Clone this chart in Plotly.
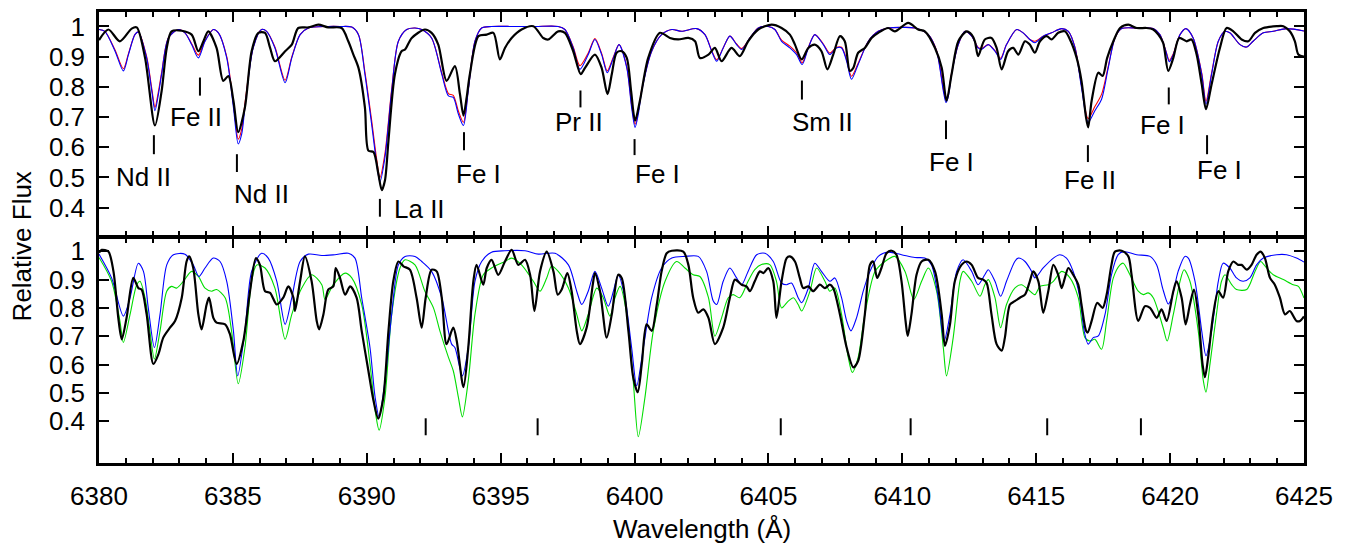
import plotly.graph_objects as go

# ---------------- data ----------------
# Top panel: observed spectrum (black)
top_obs_wl = [6380.00, 6380.35, 6380.78, 6381.22, 6381.41, 6381.72, 6382.09, 6382.34, 6382.53, 6382.71,
              6383.09, 6383.46, 6383.71, 6383.90, 6384.08, 6384.39, 6384.64, 6384.83, 6385.02, 6385.20,
              6385.45, 6385.70, 6385.95, 6386.20, 6386.39, 6386.57, 6386.95, 6387.20, 6387.44, 6387.82,
              6388.19, 6388.56, 6389.06, 6389.31, 6389.50, 6389.69, 6389.93, 6390.06, 6390.25, 6390.43,
              6390.56, 6390.68, 6390.81, 6391.05, 6391.30, 6391.43, 6391.68, 6392.17, 6392.42, 6392.67,
              6392.98, 6393.29, 6393.48, 6393.61, 6393.73, 6393.85, 6394.17, 6394.48, 6394.73, 6394.97,
              6395.16, 6395.41, 6395.78, 6396.22, 6396.59, 6396.78, 6397.15, 6397.40, 6397.71, 6397.99,
              6398.15, 6398.52, 6398.77, 6398.99, 6399.15, 6399.33, 6399.52, 6399.71, 6399.87, 6400.02,
              6400.20, 6400.51, 6400.95, 6401.32, 6401.63, 6402.01, 6402.26, 6402.44, 6402.76, 6403.00,
              6403.25, 6403.62, 6403.93, 6404.24, 6404.62, 6405.12, 6405.49, 6405.80, 6405.99, 6406.24,
              6406.49, 6406.73, 6406.98, 6407.20, 6407.42, 6407.67, 6407.85, 6408.04, 6408.17, 6408.35,
              6408.60, 6408.85, 6409.10, 6409.47, 6409.72, 6410.22, 6410.59, 6410.84, 6411.22, 6411.47,
              6411.65, 6411.84, 6412.09, 6412.40, 6412.59, 6412.71, 6412.83, 6413.08, 6413.33, 6413.52,
              6413.71, 6413.95, 6414.14, 6414.33, 6414.58, 6414.76, 6414.95, 6415.14, 6415.39, 6415.57,
              6415.82, 6416.07, 6416.26, 6416.51, 6416.69, 6416.86, 6416.94, 6417.07, 6417.32, 6417.48,
              6417.65, 6417.88, 6418.13, 6418.44, 6418.75, 6419.12, 6419.37, 6419.56, 6419.74, 6419.93,
              6420.12, 6420.34, 6420.62, 6420.80, 6420.99, 6421.18, 6421.34, 6421.55, 6421.86, 6422.11,
              6422.36, 6422.67, 6422.92, 6423.17, 6423.48, 6423.98, 6424.23, 6424.47, 6424.66, 6424.79,
              6425.00]
top_obs_flux = [0.955, 0.990, 0.951, 0.993, 0.997, 0.896, 0.672, 0.787, 0.929, 0.984,
                0.986, 0.973, 0.918, 0.951, 0.984, 0.929, 0.820, 0.836, 0.754, 0.650,
                0.732, 0.918, 0.979, 0.979, 0.929, 0.885, 0.918, 0.940, 0.995, 0.997,
                1.006, 0.997, 0.995, 0.951, 0.907, 0.863, 0.732, 0.589, 0.584, 0.513,
                0.458, 0.491, 0.622, 0.842, 0.918, 0.924, 0.962, 0.990, 0.979, 0.940,
                0.820, 0.869, 0.776, 0.705, 0.765, 0.842, 0.968, 0.973, 0.979, 0.891,
                0.929, 0.962, 0.990, 1.001, 0.962, 0.957, 0.984, 0.979, 0.918, 0.842,
                0.863, 0.907, 0.863, 0.776, 0.842, 0.913, 0.918, 0.896, 0.787, 0.688,
                0.754, 0.896, 0.979, 0.962, 0.957, 0.962, 0.951, 0.896, 0.907, 0.929,
                0.885, 0.929, 0.902, 0.951, 0.990, 1.006, 0.995, 0.973, 0.940, 0.891,
                0.929, 0.940, 0.918, 0.858, 0.907, 0.968, 0.951, 0.853, 0.863, 0.913,
                0.929, 0.962, 0.979, 0.995, 0.984, 1.012, 0.990, 0.984, 0.929, 0.863,
                0.754, 0.842, 0.951, 0.984, 0.973, 0.951, 0.902, 0.957, 0.962, 0.929,
                0.858, 0.918, 0.929, 0.907, 0.951, 0.940, 0.913, 0.951, 0.968, 0.957,
                0.979, 0.984, 0.957, 0.896, 0.820, 0.699, 0.666, 0.754, 0.847, 0.836,
                0.896, 0.951, 0.995, 1.006, 0.995, 0.995, 0.990, 0.973, 0.946, 0.853,
                0.896, 0.962, 0.951, 0.957, 0.907, 0.809, 0.726, 0.809, 0.929, 0.995,
                0.984, 0.957, 0.951, 0.979, 0.995, 1.001, 1.001, 0.984, 0.951, 0.907,
                0.900]

# Top panel: synthetic spectra (blue and red share wavelengths)
top_syn_wl = [6380.00, 6380.22, 6380.60, 6380.91, 6381.10, 6381.34, 6381.47, 6381.78, 6381.97, 6382.09,
              6382.22, 6382.34, 6382.59, 6382.96, 6383.21, 6383.46, 6383.71, 6383.96, 6384.27, 6384.46,
              6384.77, 6385.02, 6385.20, 6385.33, 6385.45, 6385.76, 6386.07, 6386.26, 6386.57, 6386.95,
              6387.20, 6387.51, 6387.82, 6388.56, 6389.00, 6389.44, 6389.69, 6389.93, 6390.18, 6390.37,
              6390.49, 6390.68, 6390.93, 6391.18, 6391.49, 6391.80, 6392.05, 6392.42, 6392.80, 6393.05,
              6393.23, 6393.42, 6393.61, 6393.79, 6394.04, 6394.29, 6394.66, 6395.50, 6396.30, 6397.15,
              6397.40, 6397.71, 6397.96, 6398.27, 6398.52, 6398.77, 6398.98, 6399.21, 6399.42, 6399.71,
              6399.89, 6400.02, 6400.14, 6400.27, 6400.64, 6401.01, 6401.39, 6401.76, 6402.32, 6402.63,
              6402.88, 6403.07, 6403.31, 6403.56, 6403.81, 6404.00, 6404.31, 6404.62, 6404.99, 6405.24,
              6405.49, 6405.80, 6406.05, 6406.26, 6406.49, 6406.73, 6407.05, 6407.29, 6407.54, 6407.73,
              6407.92, 6408.10, 6408.35, 6408.73, 6409.10, 6409.47, 6409.97, 6410.47, 6410.97, 6411.28,
              6411.53, 6411.63, 6411.71, 6411.84, 6412.09, 6412.34, 6412.59, 6412.83, 6412.96, 6413.21,
              6413.46, 6413.67, 6413.89, 6414.27, 6414.51, 6414.76, 6414.95, 6415.26, 6415.57, 6415.95,
              6416.20, 6416.45, 6416.69, 6416.94, 6417.19, 6417.44, 6417.69, 6417.94, 6418.19, 6418.75,
              6419.37, 6419.62, 6419.84, 6419.97, 6420.12, 6420.37, 6420.59, 6420.86, 6421.18, 6421.34,
              6421.55, 6421.80, 6422.05, 6422.23, 6422.61, 6422.86, 6423.10, 6423.48, 6423.85, 6424.35,
              6425.00]
top_blue_flux = [0.990, 0.984, 0.918, 0.853, 0.907, 0.973, 0.982, 0.896, 0.787, 0.721,
                 0.776, 0.842, 0.962, 0.990, 0.979, 0.940, 0.896, 0.951, 0.990, 0.979,
                 0.896, 0.732, 0.611, 0.644, 0.732, 0.929, 0.990, 0.984, 0.929, 0.814,
                 0.896, 0.973, 0.995, 1.000, 1.000, 0.998, 0.973, 0.842, 0.677, 0.545,
                 0.485, 0.567, 0.787, 0.951, 0.990, 0.995, 0.990, 0.962, 0.842, 0.770,
                 0.765, 0.710, 0.672, 0.787, 0.951, 0.995, 1.000, 1.000, 1.000, 1.000,
                 0.990, 0.929, 0.858, 0.907, 0.957, 0.907, 0.847, 0.896, 0.940, 0.863,
                 0.732, 0.666, 0.710, 0.787, 0.918, 0.973, 0.990, 0.984, 0.993, 0.973,
                 0.918, 0.885, 0.929, 0.968, 0.940, 0.924, 0.962, 0.995, 1.000, 0.990,
                 0.951, 0.929, 0.907, 0.874, 0.929, 0.973, 0.940, 0.907, 0.929, 0.929,
                 0.885, 0.825, 0.874, 0.951, 0.984, 0.995, 0.997, 0.995, 0.973, 0.918,
                 0.787, 0.748, 0.765, 0.842, 0.940, 0.984, 0.968, 0.929, 0.924, 0.940,
                 0.918, 0.891, 0.940, 0.990, 0.979, 0.957, 0.946, 0.968, 0.979, 0.993,
                 0.984, 0.929, 0.798, 0.683, 0.721, 0.759, 0.863, 0.962, 0.993, 0.995,
                 0.993, 0.973, 0.918, 0.883, 0.907, 0.973, 0.993, 0.962, 0.842, 0.743,
                 0.842, 0.951, 0.984, 0.979, 0.940, 0.932, 0.951, 0.979, 0.984, 0.993,
                 0.985]
top_red_flux = [0.990, 0.984, 0.922, 0.860, 0.910, 0.973, 0.982, 0.900, 0.795, 0.732,
                0.785, 0.848, 0.962, 0.990, 0.979, 0.943, 0.905, 0.953, 0.990, 0.979,
                0.900, 0.745, 0.627, 0.660, 0.745, 0.931, 0.990, 0.984, 0.932, 0.822,
                0.899, 0.973, 0.995, 1.000, 1.000, 0.998, 0.973, 0.850, 0.690, 0.560,
                0.500, 0.580, 0.792, 0.951, 0.990, 0.995, 0.990, 0.962, 0.846, 0.778,
                0.772, 0.720, 0.683, 0.792, 0.951, 0.995, 1.000, 1.000, 1.000, 1.000,
                0.990, 0.932, 0.870, 0.912, 0.960, 0.911, 0.853, 0.899, 0.940, 0.866,
                0.740, 0.676, 0.718, 0.792, 0.918, 0.973, 0.990, 0.984, 0.993, 0.973,
                0.920, 0.890, 0.929, 0.968, 0.942, 0.927, 0.962, 0.995, 1.000, 0.990,
                0.955, 0.935, 0.913, 0.880, 0.931, 0.973, 0.942, 0.912, 0.931, 0.931,
                0.890, 0.835, 0.878, 0.951, 0.984, 0.995, 0.997, 0.995, 0.973, 0.920,
                0.795, 0.757, 0.772, 0.846, 0.940, 0.984, 0.968, 0.931, 0.927, 0.940,
                0.920, 0.895, 0.940, 0.990, 0.979, 0.957, 0.951, 0.968, 0.979, 0.993,
                0.984, 0.931, 0.805, 0.695, 0.735, 0.775, 0.868, 0.962, 0.993, 0.995,
                0.993, 0.973, 0.920, 0.888, 0.910, 0.973, 0.993, 0.962, 0.846, 0.752,
                0.846, 0.951, 0.984, 0.979, 0.940, 0.932, 0.951, 0.979, 0.984, 0.993,
                0.985]

# Bottom panel: observed spectrum (black)
bot_obs_wl = [6380.00, 6380.10, 6380.35, 6380.54, 6380.72, 6380.85, 6381.03, 6381.28, 6381.47, 6381.59,
              6381.78, 6382.03, 6382.22, 6382.40, 6382.65, 6382.84, 6383.09, 6383.27, 6383.37, 6383.52,
              6383.71, 6383.83, 6384.02, 6384.11, 6384.27, 6384.39, 6384.71, 6384.89, 6385.14, 6385.39,
              6385.64, 6385.86, 6386.01, 6386.20, 6386.39, 6386.64, 6386.88, 6387.07, 6387.26, 6387.32,
              6387.51, 6387.69, 6387.94, 6388.13, 6388.22, 6388.38, 6388.56, 6388.75, 6388.84, 6389.00,
              6389.19, 6389.38, 6389.62, 6389.81, 6390.06, 6390.25, 6390.43, 6390.62, 6390.81, 6390.99,
              6391.18, 6391.37, 6391.61, 6391.86, 6392.05, 6392.20, 6392.42, 6392.61, 6392.80, 6392.98,
              6393.23, 6393.36, 6393.61, 6393.79, 6393.98, 6394.10, 6394.35, 6394.48, 6394.66, 6394.91,
              6395.16, 6395.41, 6395.66, 6395.91, 6396.10, 6396.26, 6396.47, 6396.72, 6396.97, 6397.13,
              6397.28, 6397.49, 6397.65, 6397.84, 6397.96, 6398.21, 6398.44, 6398.52, 6398.71, 6398.96,
              6399.15, 6399.39, 6399.52, 6399.77, 6399.95, 6400.12, 6400.27, 6400.45, 6400.64, 6400.83,
              6401.01, 6401.20, 6401.39, 6401.82, 6402.01, 6402.19, 6402.38, 6402.57, 6402.76, 6403.00,
              6403.31, 6403.56, 6403.75, 6404.00, 6404.18, 6404.31, 6404.49, 6404.68, 6404.81, 6404.99,
              6405.18, 6405.30, 6405.49, 6405.68, 6405.80, 6405.99, 6406.17, 6406.30, 6406.49, 6406.67,
              6406.92, 6407.11, 6407.29, 6407.42, 6407.67, 6407.92, 6408.17, 6408.35, 6408.60, 6408.79,
              6408.91, 6409.06, 6409.22, 6409.41, 6409.60, 6409.78, 6409.97, 6410.12, 6410.20, 6410.34,
              6410.53, 6410.72, 6410.97, 6411.22, 6411.47, 6411.59, 6411.78, 6411.96, 6412.21, 6412.40,
              6412.59, 6412.83, 6413.02, 6413.15, 6413.33, 6413.52, 6413.71, 6413.83, 6414.02, 6414.20,
              6414.39, 6414.58, 6414.76, 6414.89, 6415.08, 6415.26, 6415.45, 6415.64, 6415.82, 6415.95,
              6416.07, 6416.20, 6416.38, 6416.57, 6416.69, 6416.86, 6416.92, 6417.07, 6417.28, 6417.48,
              6417.63, 6417.81, 6417.94, 6418.19, 6418.44, 6418.56, 6418.81, 6419.06, 6419.25, 6419.50,
              6419.68, 6419.87, 6420.12, 6420.24, 6420.43, 6420.58, 6420.74, 6420.89, 6421.05, 6421.21,
              6421.30, 6421.42, 6421.61, 6421.80, 6421.98, 6422.17, 6422.36, 6422.54, 6422.67, 6422.86,
              6423.04, 6423.23, 6423.38, 6423.54, 6423.73, 6423.91, 6424.10, 6424.29, 6424.47, 6424.72,
              6424.85, 6425.00]
bot_obs_flux = [0.995, 1.005, 0.999, 0.929, 0.765, 0.689, 0.765, 0.906, 0.870, 0.865,
                0.777, 0.602, 0.637, 0.695, 0.730, 0.754, 0.836, 0.964, 0.982, 0.941,
                0.777, 0.724, 0.812, 0.836, 0.765, 0.748, 0.742, 0.707, 0.602, 0.683,
                0.859, 0.976, 0.952, 0.859, 0.853, 0.812, 0.836, 0.876, 0.836, 0.789,
                0.894, 0.982, 0.894, 0.754, 0.724, 0.777, 0.865, 0.876, 0.941, 0.906,
                0.847, 0.876, 0.836, 0.719, 0.578, 0.473, 0.409, 0.485, 0.719, 0.894,
                0.964, 0.947, 0.935, 0.836, 0.730, 0.836, 0.935, 0.929, 0.836, 0.672,
                0.730, 0.683, 0.520, 0.660, 0.894, 0.952, 0.882, 0.941, 0.970, 0.917,
                0.964, 1.005, 0.952, 0.970, 0.917, 0.789, 0.929, 0.999, 0.929, 0.847,
                0.865, 0.923, 0.859, 0.719, 0.672, 0.730, 0.882, 0.923, 0.859, 0.695,
                0.777, 0.917, 0.906, 0.719, 0.555, 0.502, 0.602, 0.742, 0.719, 0.812,
                0.929, 0.993, 1.002, 0.999, 0.952, 0.836, 0.783, 0.795, 0.765, 0.672,
                0.730, 0.836, 0.900, 0.882, 0.876, 0.859, 0.894, 0.929, 0.923, 0.941,
                0.894, 0.765, 0.894, 0.976, 0.982, 0.964, 0.906, 0.870, 0.876, 0.859,
                0.882, 0.870, 0.882, 0.870, 0.777, 0.660, 0.590, 0.613, 0.777, 0.952,
                0.964, 0.906, 0.941, 0.993, 1.002, 0.988, 0.894, 0.754, 0.701, 0.777,
                0.917, 0.964, 0.970, 0.929, 0.777, 0.666, 0.742, 0.894, 0.952, 0.964,
                0.952, 0.906, 0.900, 0.888, 0.777, 0.672, 0.649, 0.695, 0.812, 0.824,
                0.836, 0.847, 0.894, 0.929, 0.894, 0.783, 0.859, 0.952, 0.917, 0.870,
                0.906, 0.941, 0.917, 0.882, 0.812, 0.719, 0.713, 0.754, 0.818, 0.800,
                0.847, 0.952, 0.999, 1.002, 0.982, 0.917, 0.754, 0.806, 0.800, 0.765,
                0.795, 0.754, 0.859, 0.894, 0.836, 0.742, 0.812, 0.865, 0.777, 0.602,
                0.555, 0.625, 0.777, 0.859, 0.836, 0.929, 0.964, 0.952, 0.952, 0.935,
                0.952, 0.988, 0.999, 0.976, 0.906, 0.882, 0.836, 0.777, 0.789, 0.754,
                0.754, 0.770]

# Bottom panel: synthetic spectrum (blue)
bot_blue_wl = [6380.00, 6380.47, 6380.91, 6381.16, 6381.47, 6381.66, 6381.84, 6382.07, 6382.28, 6382.53,
               6382.78, 6383.21, 6383.52, 6383.73, 6383.96, 6384.27, 6384.52, 6384.77, 6385.02, 6385.18,
               6385.45, 6385.70, 6386.07, 6386.32, 6386.64, 6386.95, 6387.20, 6387.51, 6387.82, 6388.32,
               6388.81, 6389.31, 6389.56, 6389.81, 6390.12, 6390.31, 6390.46, 6390.68, 6390.93, 6391.18,
               6391.43, 6391.80, 6392.05, 6392.42, 6392.80, 6393.17, 6393.29, 6393.57, 6393.79, 6394.04,
               6394.29, 6394.66, 6395.16, 6395.91, 6396.41, 6397.03, 6397.53, 6397.84, 6398.03, 6398.27,
               6398.52, 6398.77, 6399.02, 6399.21, 6399.39, 6399.64, 6399.89, 6400.08, 6400.33, 6400.64,
               6401.01, 6401.39, 6401.88, 6402.38, 6402.69, 6402.94, 6403.07, 6403.31, 6403.56, 6403.81,
               6404.00, 6404.24, 6404.56, 6404.87, 6405.18, 6405.49, 6405.68, 6405.86, 6406.11, 6406.24,
               6406.49, 6406.73, 6406.98, 6407.29, 6407.48, 6407.73, 6407.92, 6408.08, 6408.29, 6408.54,
               6408.79, 6409.10, 6409.47, 6409.97, 6410.47, 6410.84, 6411.09, 6411.34, 6411.56, 6411.78,
               6412.03, 6412.27, 6412.59, 6412.83, 6413.08, 6413.21, 6413.46, 6413.67, 6413.89, 6414.20,
               6414.33, 6414.58, 6414.83, 6414.95, 6415.26, 6415.64, 6415.88, 6416.13, 6416.38, 6416.63,
               6416.79, 6416.94, 6417.13, 6417.32, 6417.57, 6417.81, 6418.06, 6418.25, 6418.75, 6419.25,
               6419.50, 6419.72, 6419.93, 6420.06, 6420.30, 6420.55, 6420.68, 6420.93, 6421.18, 6421.34,
               6421.55, 6421.80, 6421.98, 6422.23, 6422.48, 6422.73, 6422.98, 6423.23, 6423.48, 6423.98,
               6424.35, 6424.72, 6425.00]
bot_blue_flux = [0.990, 0.906, 0.771, 0.836, 0.958, 0.929, 0.800, 0.660, 0.777, 0.952,
                 0.988, 0.990, 0.952, 0.911, 0.941, 0.976, 0.964, 0.894, 0.719, 0.560,
                 0.719, 0.929, 0.993, 0.976, 0.894, 0.742, 0.836, 0.964, 0.990, 0.985,
                 0.988, 0.993, 0.976, 0.836, 0.660, 0.485, 0.415, 0.543, 0.777, 0.952,
                 0.982, 0.982, 0.964, 0.929, 0.836, 0.672, 0.660, 0.560, 0.660, 0.894,
                 0.964, 0.997, 1.002, 1.002, 0.990, 0.993, 0.952, 0.859, 0.812, 0.859,
                 0.929, 0.870, 0.806, 0.859, 0.917, 0.836, 0.660, 0.525, 0.660, 0.836,
                 0.941, 0.976, 0.982, 0.982, 0.929, 0.824, 0.812, 0.894, 0.941, 0.906,
                 0.882, 0.929, 0.988, 0.993, 0.964, 0.888, 0.882, 0.888, 0.836, 0.818,
                 0.870, 0.958, 0.929, 0.894, 0.906, 0.836, 0.754, 0.719, 0.765, 0.859,
                 0.929, 0.982, 0.997, 0.988, 0.978, 0.976, 0.952, 0.836, 0.683, 0.777,
                 0.929, 0.970, 0.929, 0.882, 0.917, 0.935, 0.894, 0.841, 0.894, 0.964,
                 0.976, 0.964, 0.929, 0.906, 0.941, 0.976, 0.988, 0.976, 0.929, 0.836,
                 0.719, 0.672, 0.695, 0.701, 0.777, 0.917, 0.988, 0.999, 0.988, 0.982,
                 0.952, 0.870, 0.814, 0.836, 0.929, 0.982, 0.976, 0.894, 0.719, 0.631,
                 0.719, 0.894, 0.958, 0.941, 0.906, 0.894, 0.906, 0.952, 0.976, 0.988,
                 0.988, 0.976, 0.962]

# Bottom panel: synthetic spectrum (green)
bot_green_wl = [6380.00, 6380.47, 6380.78, 6380.91, 6381.16, 6381.41, 6381.53, 6381.72, 6381.90, 6382.07,
                6382.28, 6382.53, 6382.71, 6382.90, 6383.15, 6383.46, 6383.71, 6383.96, 6384.21, 6384.39,
                6384.71, 6384.95, 6385.20, 6385.45, 6385.70, 6385.89, 6386.20, 6386.57, 6386.95, 6387.20,
                6387.57, 6387.94, 6388.32, 6388.44, 6388.75, 6389.19, 6389.44, 6389.81, 6390.12, 6390.33,
                6390.46, 6390.68, 6390.93, 6391.24, 6391.43, 6391.80, 6392.17, 6392.49, 6392.73, 6393.05,
                6393.23, 6393.42, 6393.57, 6393.79, 6394.04, 6394.35, 6394.66, 6395.16, 6395.41, 6395.78,
                6396.22, 6396.47, 6396.72, 6396.90, 6397.15, 6397.53, 6397.84, 6398.03, 6398.27, 6398.59,
                6398.83, 6399.08, 6399.27, 6399.46, 6399.71, 6399.95, 6400.14, 6400.39, 6400.70, 6401.14,
                6401.57, 6401.88, 6402.19, 6402.44, 6402.76, 6403.00, 6403.25, 6403.50, 6403.68, 6403.93,
                6404.24, 6404.49, 6404.74, 6405.05, 6405.30, 6405.49, 6405.74, 6405.93, 6406.11, 6406.24,
                6406.55, 6406.80, 6407.11, 6407.29, 6407.48, 6407.73, 6407.98, 6408.13, 6408.35, 6408.60,
                6408.98, 6409.35, 6409.72, 6410.10, 6410.43, 6410.72, 6410.97, 6411.28, 6411.53, 6411.65,
                6411.90, 6412.15, 6412.27, 6412.59, 6412.90, 6413.08, 6413.21, 6413.46, 6413.67, 6413.89,
                6414.20, 6414.45, 6414.70, 6414.95, 6415.14, 6415.45, 6415.64, 6415.95, 6416.26, 6416.57,
                6416.82, 6417.00, 6417.19, 6417.44, 6417.63, 6417.88, 6418.13, 6418.25, 6418.50, 6418.81,
                6419.00, 6419.18, 6419.37, 6419.74, 6419.89, 6420.12, 6420.37, 6420.52, 6420.74, 6421.05,
                6421.24, 6421.34, 6421.49, 6421.73, 6421.92, 6422.05, 6422.30, 6422.48, 6422.86, 6423.17,
                6423.38, 6423.60, 6423.85, 6424.23, 6424.60, 6424.79, 6425.00]
bot_green_flux = [0.978, 0.894, 0.754, 0.678, 0.777, 0.882, 0.894, 0.836, 0.719, 0.619,
                  0.719, 0.859, 0.876, 0.870, 0.894, 0.929, 0.911, 0.870, 0.859, 0.865,
                  0.836, 0.719, 0.532, 0.660, 0.894, 0.952, 0.941, 0.870, 0.689, 0.777,
                  0.870, 0.917, 0.882, 0.830, 0.882, 0.923, 0.906, 0.812, 0.602, 0.426,
                  0.368, 0.485, 0.777, 0.941, 0.970, 0.952, 0.859, 0.800, 0.719, 0.625,
                  0.578, 0.485, 0.415, 0.543, 0.777, 0.917, 0.941, 0.964, 0.976, 0.952,
                  0.894, 0.859, 0.906, 0.947, 0.929, 0.870, 0.777, 0.719, 0.777, 0.870,
                  0.836, 0.771, 0.836, 0.876, 0.777, 0.543, 0.345, 0.485, 0.719, 0.894,
                  0.964, 0.941, 0.917, 0.911, 0.836, 0.700, 0.765, 0.836, 0.847, 0.836,
                  0.894, 0.935, 0.953, 0.953, 0.894, 0.800, 0.824, 0.836, 0.812, 0.789,
                  0.859, 0.941, 0.894, 0.859, 0.870, 0.777, 0.625, 0.572, 0.625, 0.777,
                  0.929, 0.964, 0.982, 0.929, 0.830, 0.894, 0.941, 0.859, 0.660, 0.560,
                  0.695, 0.894, 0.929, 0.894, 0.841, 0.882, 0.900, 0.836, 0.730, 0.812,
                  0.870, 0.882, 0.865, 0.847, 0.876, 0.882, 0.894, 0.929, 0.906, 0.836,
                  0.695, 0.683, 0.689, 0.654, 0.754, 0.906, 0.952, 0.958, 0.917, 0.859,
                  0.847, 0.853, 0.836, 0.730, 0.683, 0.777, 0.894, 0.935, 0.894, 0.719,
                  0.543, 0.502, 0.602, 0.777, 0.894, 0.917, 0.882, 0.865, 0.865, 0.929,
                  0.964, 0.941, 0.917, 0.900, 0.882, 0.876, 0.835]

# Line identifications (top panel)
top_id_wl = [6382.05, 6383.77, 6385.15, 6390.49, 6393.63, 6397.98, 6400.00, 6406.25, 6411.63, 6416.93, 6419.95, 6421.38]
top_id_text = ["Nd II", "Fe II", "Nd II", "La II", "Fe I", "Pr II", "Fe I", "Sm II", "Fe I", "Fe II", "Fe I", "Fe I"]
top_id_tick_lo = [0.577, 0.771, 0.518, 0.370, 0.590, 0.732, 0.574, 0.758, 0.627, 0.551, 0.742, 0.577]
top_id_tick_hi = [0.640, 0.831, 0.577, 0.429, 0.650, 0.788, 0.627, 0.821, 0.689, 0.607, 0.798, 0.640]
top_id_label_wl = [6381.68, 6383.62, 6386.05, 6390.94, 6394.19, 6397.92, 6400.84, 6407.00, 6411.85, 6417.00, 6419.73, 6421.86]
top_id_label_y = [0.502, 0.699, 0.446, 0.396, 0.512, 0.683, 0.512, 0.683, 0.551, 0.492, 0.673, 0.525]
top_id_anchor = ["center"] * 3 + ["left"] + ["center"] * 8

# Unlabelled marks (bottom panel)
bot_mark_wl = [6392.20, 6396.38, 6405.46, 6410.31, 6415.41, 6418.91]
bot_mark_lo = 0.350
bot_mark_hi = 0.410

x_ticks = [6380, 6385, 6390, 6395, 6400, 6405, 6410, 6415, 6420, 6425]
y_ticks = [0.4, 0.5, 0.6, 0.7, 0.8, 0.9, 1.0]
y_ticktext = ["0.4", "0.5", "0.6", "0.7", "0.8", "0.9", "1"]

# ---------------- figure ----------------
FONT = "Liberation Sans, Arial, Helvetica, sans-serif"
BLUE, RED, GREEN = "#0000ff", "#ff0000", "#00dd00"

fig = go.Figure()
sp = dict(shape="spline", smoothing=0.8)

fig.add_trace(go.Scatter(x=top_syn_wl, y=top_red_flux, mode="lines", line=dict(color=RED, width=1.1, **sp),
                         xaxis="x2", yaxis="y2", showlegend=False))
fig.add_trace(go.Scatter(x=top_syn_wl, y=top_blue_flux, mode="lines", line=dict(color=BLUE, width=1.1, **sp),
                         xaxis="x2", yaxis="y2", showlegend=False))
fig.add_trace(go.Scatter(x=top_obs_wl, y=top_obs_flux, mode="lines", line=dict(color="black", width=2.2, **sp),
                         xaxis="x2", yaxis="y2", showlegend=False))

fig.add_trace(go.Scatter(x=bot_green_wl, y=bot_green_flux, mode="lines", line=dict(color=GREEN, width=1.1, **sp),
                         xaxis="x", yaxis="y", showlegend=False))
fig.add_trace(go.Scatter(x=bot_blue_wl, y=bot_blue_flux, mode="lines", line=dict(color=BLUE, width=1.1, **sp),
                         xaxis="x", yaxis="y", showlegend=False))
fig.add_trace(go.Scatter(x=bot_obs_wl, y=bot_obs_flux, mode="lines", line=dict(color="black", width=2.2, **sp),
                         xaxis="x", yaxis="y", showlegend=False))

shapes = []
annotations = []
for wl, lo, hi in zip(top_id_wl, top_id_tick_lo, top_id_tick_hi):
    shapes.append(dict(type="line", xref="x2", yref="y2", x0=wl, x1=wl, y0=lo, y1=hi,
                       line=dict(color="black", width=2)))
for txt, lx, ly, anc in zip(top_id_text, top_id_label_wl, top_id_label_y, top_id_anchor):
    annotations.append(dict(xref="x2", yref="y2", x=lx, y=ly, text=txt, showarrow=False,
                            xanchor=anc, yanchor="middle", font=dict(size=26, color="black", family=FONT)))
for wl in bot_mark_wl:
    shapes.append(dict(type="line", xref="x", yref="y", x0=wl, x1=wl, y0=bot_mark_lo, y1=bot_mark_hi,
                       line=dict(color="black", width=2)))

annotations.append(dict(xref="paper", yref="paper", x=-0.064, y=0.48, text="Relative Flux", textangle=-90,
                        showarrow=False, xanchor="center", yanchor="middle",
                        font=dict(size=26, color="black", family=FONT)))
annotations.append(dict(xref="paper", yref="paper", x=0.5, y=-0.147, text="Wavelength (Å)",
                        showarrow=False, xanchor="center", yanchor="middle",
                        font=dict(size=26, color="black", family=FONT)))

xcommon = dict(range=[6380, 6425], tickvals=x_ticks, ticks="inside", ticklen=10, tickwidth=2,
               tickcolor="black", showline=True, linewidth=2.5, linecolor="black", mirror="allticks",
               showgrid=False, zeroline=False,
               minor=dict(dtick=1, tick0=6380, ticks="inside", ticklen=5, tickwidth=2, tickcolor="black",
                          showgrid=False),
               tickfont=dict(size=26, color="black", family=FONT))
ycommon = dict(tickvals=y_ticks, ticktext=y_ticktext, ticks="inside", ticklen=10, tickwidth=2,
               tickcolor="black", showline=True, linewidth=2.5, linecolor="black", mirror="allticks",
               showgrid=False, zeroline=False, tickfont=dict(size=26, color="black", family=FONT))

# The page body adds an 8px offset, so the figure is sized/margined to compensate.
fig.update_layout(
    width=1343, height=538,
    margin=dict(l=91, r=47, t=1, b=83),
    paper_bgcolor="white", plot_bgcolor="white",
    xaxis=dict(anchor="y", ticklabelstandoff=8, **xcommon),
    xaxis2=dict(anchor="y2", matches="x", showticklabels=False, **xcommon),
    yaxis=dict(domain=[0.0, 0.4989], range=[0.252, 1.047], anchor="x", ticklabelstandoff=6, **ycommon),
    yaxis2=dict(domain=[0.5033, 1.0], range=[0.306, 1.048], anchor="x2", ticklabelstandoff=6, **ycommon),
    shapes=shapes,
    annotations=annotations,
    font=dict(family=FONT, size=26, color="black"),
)

fig.write_html("out.html")
